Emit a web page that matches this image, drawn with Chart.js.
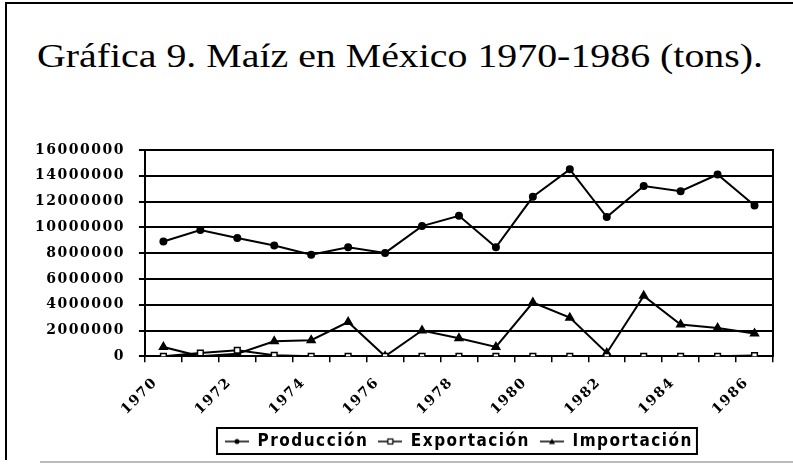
<!DOCTYPE html>
<html>
<head>
<meta charset="utf-8">
<script src="https://cdn.jsdelivr.net/npm/chart.js@4"></script>
<style>
  html, body { margin: 0; padding: 0; background: #fff; }
  #wrap { position: relative; width: 793px; height: 467px; overflow: hidden; }
  #frame { position: absolute; left: 5px; top: 2px; width: 800px; height: 456px;
           border-left: 2px solid #000; border-top: 2px solid #000; }
  #bottomline { position: absolute; left: 40px; top: 461px; width: 760px; height: 2px; background: #bbb; }
  #title { position: absolute; left: 37px; top: 38px; white-space: nowrap;
           font-family: 'Liberation Serif', 'Times New Roman', serif; font-size: 33px;
           line-height: 36px; color: #000; transform-origin: 0 0; }
  #chart { position: absolute; left: 0; top: 0; }
</style>
</head>
<body>
<div id="wrap">
  <div id="frame"></div>
  <div id="bottomline"></div>
  <div id="title">Gráfica 9. Maíz en México 1970-1986 (tons).</div>
  <canvas id="chart" width="793" height="467"></canvas>
</div>
<script>
// --- DATA ---
const years = ['1970', '1971', '1972', '1973', '1974', '1975', '1976', '1977', '1978',
               '1979', '1980', '1981', '1982', '1983', '1984', '1985', '1986'];
const produccion = [8900000, 9800000, 9170000, 8600000, 7870000, 8460000, 8020000, 10100000, 10900000,
                    8460000, 12370000, 14500000, 10800000, 13200000, 12800000, 14100000, 11700000];
const exportacion = [0, 260000, 470000, 80000, 0, 0, 0, 0, 0,
                     0, 0, 0, 0, 0, 0, 0, 60000];
const importacion = [730000, 0, 200000, 1170000, 1250000, 2660000, 0, 2000000, 1400000,
                     730000, 4170000, 3000000, 260000, 4690000, 2470000, 2200000, 1770000];
const yTicks = [0, 2000000, 4000000, 6000000, 8000000, 10000000, 12000000, 14000000, 16000000];

// stretch the title to the width it has in the scan
const titleEl = document.getElementById('title');
const titleW = titleEl.getBoundingClientRect().width;
titleEl.style.transform = 'scaleX(' + (726 / titleW) + ')';

// small line+marker symbols for the legend
function legendSymbol(kind) {
    const c = document.createElement('canvas');
    c.width = 24; c.height = 10;
    const g = c.getContext('2d');
    g.strokeStyle = '#000';
    g.lineWidth = 1.5;
    g.beginPath(); g.moveTo(0, 5); g.lineTo(24, 5); g.stroke();
    g.fillStyle = '#000';
    if (kind === 'circle') {
        g.beginPath(); g.arc(12, 5, 2.5, 0, Math.PI * 2); g.fill();
    } else if (kind === 'rect') {
        g.fillStyle = '#fff';
        g.fillRect(9.5, 2.5, 5, 5);
        g.lineWidth = 1.2;
        g.strokeRect(9.5, 2.5, 5, 5);
    } else {
        g.beginPath(); g.moveTo(12, 2); g.lineTo(15, 7.5); g.lineTo(9, 7.5); g.closePath(); g.fill();
    }
    return c;
}
const symbols = [legendSymbol('circle'), legendSymbol('rect'), legendSymbol('triangle')];

// the scan's lettering is widely spaced; canvas resets on resize so set it before layout and draw
const spacing = {
    id: 'spacing',
    beforeLayout(chart) { chart.ctx.letterSpacing = '1.5px'; },
    beforeDraw(chart) { chart.ctx.letterSpacing = '1.5px'; },
    // centre the legend under the plot area rather than under the whole canvas
    afterLayout(chart) {
        const lg = chart.legend;
        if (!lg) return;
        const shift = (chart.chartArea.left + chart.chartArea.right) / 2 - (lg.left + lg.right) / 2;
        lg.left += shift;
        lg.right += shift;
    }
};

// border around the legend items
const legendBox = {
    id: 'legendBox',
    afterDraw(chart) {
        const boxes = chart.legend && chart.legend.legendHitBoxes;
        if (!boxes || !boxes.length) return;
        const left = Math.min(...boxes.map(b => b.left)) - 8;
        const right = Math.max(...boxes.map(b => b.left + b.width)) + 4;
        const top = Math.min(...boxes.map(b => b.top)) - 5;
        const bottom = Math.max(...boxes.map(b => b.top + b.height)) + 4;
        const ctx = chart.ctx;
        ctx.save();
        ctx.strokeStyle = '#000';
        ctx.lineWidth = 2;
        ctx.strokeRect(left, top, right - left, bottom - top);
        ctx.restore();
    }
};

const tickFont = { family: "'DejaVu Serif', serif", size: 14, weight: 'bold' };

new Chart(document.getElementById('chart'), {
    type: 'line',
    data: {
        labels: years,
        datasets: [
            {
                label: 'Producción',
                data: produccion,
                borderColor: '#000',
                backgroundColor: '#000',
                borderWidth: 2,
                pointStyle: 'circle',
                pointRadius: 3,
                tension: 0
            },
            {
                label: 'Exportación',
                data: exportacion,
                borderColor: '#000',
                backgroundColor: '#fff',
                borderWidth: 2,
                pointStyle: 'rect',
                pointRadius: 4,
                pointBorderWidth: 1.5,
                tension: 0
            },
            {
                label: 'Importación',
                data: importacion,
                borderColor: '#000',
                backgroundColor: '#000',
                borderWidth: 2,
                pointStyle: 'triangle',
                pointRadius: 4,
                tension: 0
            }
        ]
    },
    options: {
        responsive: false,
        animation: false,
        layout: { padding: { left: 21, right: 20, top: 150, bottom: 7 } },
        scales: {
            x: {
                offset: true,
                grid: { drawOnChartArea: false, drawTicks: true, tickLength: 6, color: '#000', lineWidth: 1.5, offset: true },
                border: { color: '#000', width: 2 },
                ticks: {
                    color: '#000',
                    font: tickFont,
                    autoSkip: false,
                    maxRotation: 45,
                    minRotation: 45,
                    padding: 12,
                    labelOffset: -8,
                    callback: (v, i) => (i % 2 === 0 ? years[i] : '')
                },
                afterFit: axis => { axis.height = axis.height - 7; }
            },
            y: {
                min: 0,
                max: 16000000,
                afterBuildTicks: axis => { axis.ticks = yTicks.map(v => ({ value: v })); },
                grid: { color: '#000', lineWidth: 2, tickLength: 6 },
                border: { color: '#000', width: 2 },
                ticks: { color: '#000', font: tickFont, padding: 14, callback: v => String(v) }
            },
            yr: {
                position: 'right',
                min: 0,
                max: 16000000,
                grid: { display: false },
                ticks: { display: false },
                border: { color: '#000', width: 2 },
                afterFit: axis => { axis.width = 0; }
            }
        },
        plugins: {
            legend: {
                position: 'bottom',
                labels: {
                    color: '#000',
                    font: { family: "'DejaVu Sans Condensed', 'DejaVu Sans', sans-serif", size: 17, weight: 'bold' },
                    usePointStyle: true,
                    pointStyleWidth: 24,
                    padding: 10,
                    generateLabels: chart => Chart.defaults.plugins.legend.labels.generateLabels(chart)
                        .map((item, i) => Object.assign(item, { pointStyle: symbols[i] }))
                }
            },
            tooltip: { enabled: false },
            title: { display: false }
        }
    },
    plugins: [spacing, legendBox]
});
</script>
</body>
</html>
